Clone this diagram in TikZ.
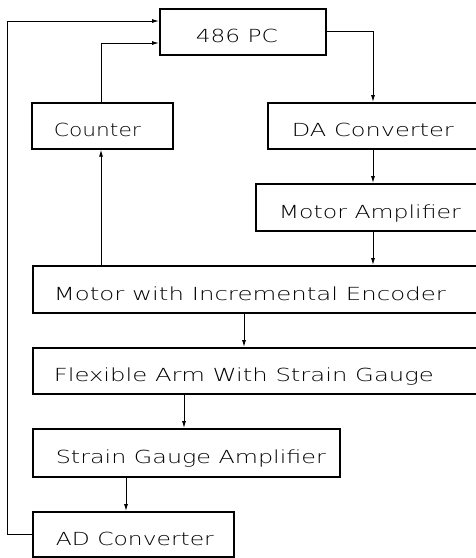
\documentclass[tikz,border=0pt]{standalone}
\usepackage{fontspec}
\usepackage{graphicx}
\newfontfamily\plotfont{DejaVu Sans ExtraLight}
\usetikzlibrary{arrows.meta}
\newcommand{\bt}[4]{\raisebox{-11pt}[0pt][0pt]{\makebox[#1pt][l]{\hspace*{#2pt}\resizebox{#3pt}{\height}{#4}}}}
\tikzset{
  blk/.style={draw, line width=1.7pt, rectangle, inner sep=0pt, anchor=north west,
    font=\plotfont\fontsize{18}{20}\selectfont},
  con/.style={line width=0.9pt, -{Latex[length=7pt,width=4pt]}}
}
\begin{document}
\begin{tikzpicture}[x=1pt,y=-1pt]
\useasboundingbox (0,0) rectangle (476,558);
\clip (0,0) rectangle (476,558);
\node[blk, minimum height=46pt] (pc) at (159,8) {\bt{166}{36}{82}{486 PC}};
\node[blk, minimum height=46pt] (counter) at (31,102) {\bt{141}{22}{87}{Counter}};
\node[blk, minimum height=46pt] (da) at (267,102) {\bt{223}{24}{162}{DA Converter}};
\node[blk, minimum height=47pt] (amp) at (255,183) {\bt{235}{23}{182}{Motor Amplifier}};
\node[blk, minimum height=47pt] (motor) at (32,265) {\bt{458}{21}{392}{Motor with Incremental Encoder}};
\node[blk, minimum height=46pt] (arm) at (32,347) {\bt{458}{21}{380}{Flexible Arm With Strain Gauge}};
\node[blk, minimum height=48pt] (sga) at (32,428) {\bt{307}{23}{270}{Strain Gauge Amplifier}};
\node[blk, minimum height=45pt] (ad) at (32,511) {\bt{201}{23}{158}{AD Converter}};
\draw[con] (pc.east) -| (373,0 |- da.north);
\draw[con] (373,0 |- da.south) -- (373,0 |- amp.north);
\draw[con] (373,0 |- amp.south) -- (373,0 |- motor.north);
\draw[con] (244,0 |- motor.south) -- (244,0 |- arm.north);
\draw[con] (184,0 |- arm.south) -- (184,0 |- sga.north);
\draw[con] (126,0 |- sga.south) -- (126,0 |- ad.north);
\draw[con] (101,0 |- motor.north) -- (101,0 |- counter.south);
\draw[con] (101,0 |- counter.north) |- (pc.west |- 0,43);
\draw[con] (ad.west) -- (7,0 |- ad.west) |- (pc.west |- 0,21);
\end{tikzpicture}
\end{document}
